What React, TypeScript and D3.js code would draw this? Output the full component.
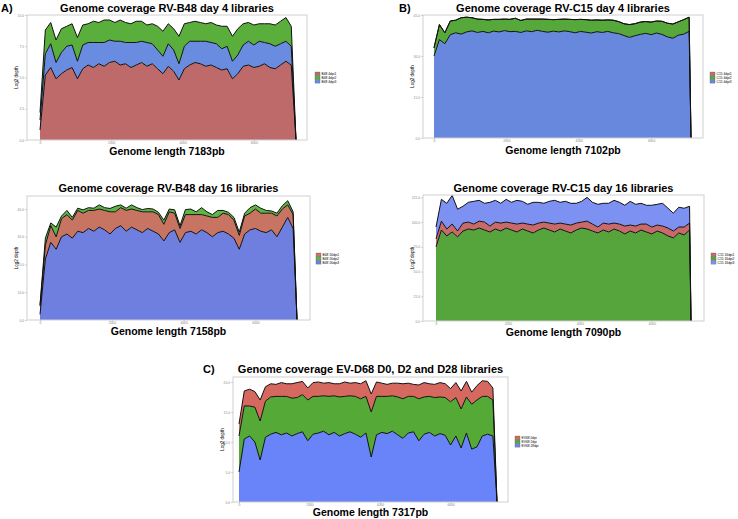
import React, { useEffect, useRef } from "react";
import * as d3 from "d3";

// RV-B48 day 4 (panel A, left)
const b48d4Len = 7183;
const b48d4Lib1 = [0.8, 5.2, 5.8, 4.9, 5.3, 5.6, 5.8, 4.9, 5.7, 6.0, 5.8, 6.1, 5.9, 6.2, 6.3, 6.0, 6.1, 5.8, 6.0, 6.2, 5.9, 6.1, 5.7, 5.3, 5.9, 5.5, 4.8, 5.7, 6.0, 6.2, 6.1, 5.9, 6.0, 5.8, 5.6, 5.7, 4.9, 5.3, 5.9, 6.0, 5.8, 5.9, 6.1, 5.8, 5.7, 6.0, 6.3, 6.0, 0];
const b48d4Lib2 = [0.6, 1.9, 1.7, 1.8, 1.9, 1.6, 1.7, 1.9, 1.6, 1.5, 1.7, 1.6, 1.8, 1.6, 1.5, 1.7, 1.6, 1.5, 1.7, 1.6, 1.4, 1.6, 1.9, 2.0, 1.6, 1.7, 2.2, 1.8, 1.5, 1.6, 1.5, 1.4, 1.6, 1.5, 1.8, 1.6, 2.0, 2.1, 1.7, 1.5, 1.6, 1.4, 1.5, 1.6, 1.7, 1.8, 1.9, 1.6, 0];
const b48d4Lib3 = [0.8, 1.7, 1.9, 1.3, 1.7, 1.9, 1.8, 1.4, 1.9, 1.8, 2.0, 1.7, 1.9, 1.8, 1.6, 1.9, 1.7, 2.0, 1.8, 1.7, 1.9, 1.6, 1.5, 1.4, 1.8, 1.7, 1.3, 1.8, 1.9, 1.7, 1.8, 2.0, 1.8, 1.9, 1.7, 1.8, 1.4, 1.5, 1.7, 1.9, 1.8, 2.0, 1.7, 1.9, 1.8, 1.7, 1.6, 1.5, 0];

// RV-C15 day 4 (panel B, right)
const c15d4Len = 7102;
const c15d4Lib1 = [0, 0, 0, 0, 0, 0, 0, 0, 0, 0, 0, 0, 0, 0, 0, 0, 0, 0, 0, 0, 0, 0, 0, 0, 0, 0, 0, 0, 0, 0, 0, 0, 0, 0, 0, 0, 0, 0, 0, 0, 0, 0, 0, 0, 0, 0, 0, 0, 0];
const c15d4Lib2 = [3.0, 5.5, 4.0, 5.0, 4.6, 6.0, 5.4, 4.8, 4.9, 4.4, 4.7, 4.3, 4.6, 4.2, 4.5, 4.8, 4.4, 4.3, 4.6, 4.1, 4.5, 4.7, 4.2, 4.6, 4.3, 4.5, 4.8, 4.4, 4.6, 4.7, 4.3, 4.5, 4.2, 4.6, 4.4, 4.3, 4.7, 4.4, 4.5, 4.3, 4.6, 4.4, 4.8, 5.0, 5.2, 4.9, 5.3, 5.2, 0];
const c15d4Lib3 = [30.0, 36.0, 34.5, 37.8, 38.5, 38.0, 38.8, 39.2, 38.6, 39.0, 38.5, 39.1, 38.8, 39.3, 38.9, 39.0, 38.6, 39.2, 38.9, 39.4, 39.0, 38.7, 39.1, 38.8, 39.2, 38.9, 38.5, 39.0, 38.7, 38.4, 38.9, 38.6, 39.0, 38.5, 38.2, 37.5, 36.8, 37.4, 37.9, 38.3, 37.8, 38.4, 37.9, 37.0, 36.5, 37.6, 38.0, 39.0, 0];

// RV-B48 day 16
const b48d16Len = 7158;
const b48d16Lib1 = [3.0, 5.0, 6.0, 4.5, 6.5, 7.0, 6.5, 7.5, 7.0, 6.5, 7.5, 6.5, 7.0, 8.0, 6.0, 6.5, 7.5, 6.5, 7.0, 7.5, 6.0, 7.0, 7.0, 6.0, 7.5, 6.0, 5.0, 6.5, 6.0, 7.0, 5.5, 6.0, 7.0, 5.5, 6.5, 7.0, 6.5, 5.0, 6.5, 6.0, 7.0, 6.5, 7.0, 6.0, 7.5, 6.5, 4.5, 5.0, 0];
const b48d16Lib2 = [0.5, 2.5, 1.0, 3.5, 1.0, 1.5, 1.0, 0.8, 1.2, 1.0, 0.8, 1.5, 1.0, 1.2, 2.0, 1.0, 0.8, 1.5, 1.0, 0.8, 1.2, 1.0, 0.8, 1.5, 1.0, 1.2, 1.0, 1.8, 2.0, 1.0, 2.5, 1.5, 1.0, 2.5, 1.0, 0.8, 1.0, 1.2, 1.0, 2.0, 1.5, 1.8, 1.0, 0.8, 1.0, 1.2, 1.5, 1.0, 0];
const b48d16Lib3 = [2.0, 22.0, 28.0, 25.5, 30.0, 31.0, 29.5, 32.0, 31.5, 33.0, 32.0, 33.5, 32.5, 31.0, 33.0, 34.0, 32.0, 33.5, 32.5, 31.5, 33.0, 32.0, 31.0, 28.5, 31.5, 32.5, 28.0, 31.5, 32.0, 31.0, 32.5, 31.5, 30.0, 31.5, 32.0, 31.0, 29.5, 25.5, 31.0, 32.5, 33.0, 32.0, 31.5, 32.5, 30.0, 33.5, 37.0, 33.0, 0];

// RV-C15 day 16
const c15d16Len = 7090;
const c15d16Lib1 = [8, 9, 7, 8, 6, 8, 7, 6, 7, 8, 6, 7, 8, 6, 7, 8, 6, 7, 8, 7, 6, 7, 8, 6, 7, 8, 7, 6, 8, 7, 6, 7, 8, 6, 7, 8, 6, 7, 6, 8, 7, 6, 7, 8, 7, 6, 8, 7, 0];
const c15d16Lib2 = [75, 92, 86, 90, 85, 91, 93, 92, 94, 92, 90, 93, 91, 94, 92, 90, 93, 91, 89, 92, 94, 92, 90, 93, 91, 89, 92, 94, 93, 91, 89, 92, 90, 93, 91, 88, 91, 89, 92, 90, 88, 91, 89, 86, 84, 89, 87, 92, 0];
const c15d16Lib3 = [12, 22, 26, 29, 22, 17, 20, 23, 21, 19, 24, 22, 20, 23, 21, 24, 22, 20, 23, 21, 19, 22, 24, 21, 23, 22, 20, 21, 24, 22, 23, 20, 21, 23, 22, 21, 24, 22, 21, 19, 22, 21, 23, 20, 18, 20, 19, 17, 0];

// EV-D68 D0, D2, D28
const ev68Len = 7317;
const ev68D0 = [2.0, 2.5, 2.8, 2.6, 3.5, 2.4, 2.2, 2.0, 2.3, 2.1, 2.4, 2.5, 2.2, 2.0, 2.3, 2.4, 2.1, 2.3, 2.0, 2.2, 2.4, 2.1, 2.3, 2.5, 2.6, 3.0, 2.4, 2.2, 2.0, 2.1, 2.3, 2.5, 2.2, 2.0, 2.3, 2.4, 2.1, 2.2, 2.4, 2.3, 2.2, 2.5, 3.0, 2.6, 2.0, 2.4, 2.6, 2.5, 2.0, 0];
const ev68D2 = [6.0, 5.5, 5.0, 5.8, 6.5, 6.0, 6.2, 6.0, 6.4, 6.1, 6.3, 6.0, 6.2, 6.8, 6.3, 6.1, 5.9, 6.4, 6.1, 6.5, 6.2, 6.0, 6.3, 6.4, 6.1, 7.5, 6.4, 6.0, 6.2, 5.9, 6.3, 6.6, 6.1, 5.9, 7.0, 6.2, 6.0, 6.4, 6.1, 6.3, 7.2, 6.4, 6.5, 6.0, 7.5, 7.8, 6.6, 6.3, 6.0, 0];
const ev68D28 = [5.0, 10.5, 11.0, 10.0, 7.0, 10.8, 11.3, 11.6, 11.2, 11.5, 11.0, 11.4, 11.7, 10.2, 11.3, 11.5, 11.8, 11.2, 11.6, 11.0, 11.4, 11.7, 11.3, 10.8, 11.5, 7.5, 11.2, 11.6, 11.4, 11.8, 11.2, 10.6, 11.5, 11.7, 10.2, 11.3, 11.6, 11.0, 11.4, 11.1, 9.5, 11.0, 9.0, 11.5, 8.8, 9.2, 11.0, 11.3, 11.0, 0];

const xTicks = [0, 2000, 4000, 6000];

const positions = (len: number) => [...d3.range(0, len, 150), len];

const FONT = "Liberation Sans, Arial, sans-serif";

interface Layer { name: string; values: number[]; color: string; }
interface Panel {
    letter?: string; letterX?: number;
    title: string; len: number;
    box: { x: number; y: number; w: number; h: number };
    xr: [number, number];
    ymax: number; yTicks: number[]; yFmt: string;
    stack: Layer[];      // bottom to top
    legend: Layer[];     // legend order
    legX: number; legY: number;
    titleY: number; xlabY: number;
}

const mk = (name: string, values: number[], color: string): Layer => ({ name, values, color });

const panels: Panel[] = (() => {
    const a1 = mk("B48 4dpi1", b48d4Lib1, "#be6a6a"), a2 = mk("B48 4dpi2", b48d4Lib2, "#5aae3c"), a3 = mk("B48 4dpi3", b48d4Lib3, "#6a8ce0");
    const b1 = mk("C15 4dpi1", c15d4Lib1, "#c86a6a"), b2 = mk("C15 4dpi2", c15d4Lib2, "#56a83a"), b3 = mk("C15 4dpi3", c15d4Lib3, "#6888de");
    const c1 = mk("B48 16dpi1", b48d16Lib1, "#c77462"), c2 = mk("B48 16dpi2", b48d16Lib2, "#5db544"), c3 = mk("B48 16dpi3", b48d16Lib3, "#6e7fe0");
    const d1 = mk("C15 16dpi1", c15d16Lib1, "#c86a6a"), d2 = mk("C15 16dpi2", c15d16Lib2, "#55a53c"), d3_ = mk("C15 16dpi3", c15d16Lib3, "#7d91f3");
    const e1 = mk("EV68 0dpi", ev68D0, "#d6695f"), e2 = mk("EV68 2dpi", ev68D2, "#55aa37"), e3 = mk("EV68 28dpi", ev68D28, "#6983f8");
    return [
        { letter: "A)", letterX: 1, title: "Genome coverage RV-B48 day 4 libraries", len: b48d4Len,
          box: { x: 27, y: 15, w: 280, h: 125 }, xr: [40, 296], ymax: 10, yTicks: [0, 2.5, 5, 7.5, 10], yFmt: ".1f",
          stack: [a1, a3, a2], legend: [a1, a2, a3], legX: 315, legY: 72, titleY: 12, xlabY: 155 },
        { letter: "B)", letterX: 399, title: "Genome coverage RV-C15 day 4 libraries", len: c15d4Len,
          box: { x: 423, y: 15, w: 280, h: 123 }, xr: [434, 691], ymax: 45, yTicks: [0, 15, 30, 45], yFmt: ".1f",
          stack: [b3, b2, b1], legend: [b1, b2, b3], legX: 710, legY: 72, titleY: 12, xlabY: 154 },
        { title: "Genome coverage RV-B48 day 16 libraries", len: b48d16Len,
          box: { x: 27, y: 196, w: 283, h: 124 }, xr: [40, 297], ymax: 44.7, yTicks: [0, 10, 20, 30, 40], yFmt: ".1f",
          stack: [c3, c1, c2], legend: [c1, c2, c3], legX: 316, legY: 253, titleY: 192, xlabY: 335 },
        { title: "Genome coverage RV-C15 day 16 libraries", len: c15d16Len,
          box: { x: 423, y: 195, w: 281, h: 126 }, xr: [436, 691], ymax: 127.4, yTicks: [0, 25, 50, 75, 100, 125], yFmt: ".1f",
          stack: [d2, d1, d3_], legend: [d1, d2, d3_], legX: 711, legY: 253, titleY: 192, xlabY: 336 },
        { letter: "C)", letterX: 203, title: "Genome coverage EV-D68 D0, D2 and D28 libraries", len: ev68Len,
          box: { x: 233, y: 377, w: 275, h: 125 }, xr: [239, 497], ymax: 20.83, yTicks: [0, 5, 10, 15, 20], yFmt: ".1f",
          stack: [e3, e2, e1], legend: [e1, e2, e3], legX: 515, legY: 436, titleY: 373, xlabY: 516 },
    ];
})();

function drawPanel(svg: any, p: Panel) {
    const { box } = p;
    const pos = positions(p.len);
    const x = d3.scaleLinear().domain([0, p.len]).range(p.xr);
    const y = d3.scaleLinear().domain([0, p.ymax]).range([box.y + box.h, box.y]);

    const rows = pos.map((bp, i) => {
        const r: any = { bp };
        p.stack.forEach(l => { r[l.name] = l.values[i]; });
        return r;
    });
    const series = d3.stack().keys(p.stack.map(l => l.name))(rows);

    const area = d3.area<any>()
        .x((d: any) => x(d.data.bp))
        .y0((d: any) => y(d[0]))
        .y1((d: any) => y(d[1]));
    const topLine = d3.line<any>()
        .x((d: any) => x(d.data.bp))
        .y((d: any) => y(d[1]));

    const g = svg.append("g");

    series.forEach((s: any, i: number) => {
        g.append("path")
            .attr("d", area(s))
            .attr("fill", p.stack[i].color);
    });
    series.forEach((s: any) => {
        g.append("path")
            .attr("d", topLine(s))
            .attr("fill", "none")
            .attr("stroke", "#111")
            .attr("stroke-width", 1)
            .attr("stroke-linejoin", "round");
    });

    // panel border
    g.append("rect")
        .attr("x", box.x).attr("y", box.y)
        .attr("width", box.w).attr("height", box.h)
        .attr("fill", "none")
        .attr("stroke", "#cfcfcf")
        .attr("stroke-width", 1);

    // axes
    const yAxis = g.append("g")
        .attr("transform", `translate(${box.x},0)`)
        .call(d3.axisLeft(y).tickValues(p.yTicks).tickSize(2).tickPadding(1).tickFormat(d3.format(p.yFmt)));
    const xAxis = g.append("g")
        .attr("transform", `translate(0,${box.y + box.h})`)
        .call(d3.axisBottom(x).tickValues(xTicks).tickSize(1.5).tickPadding(0.5).tickFormat(d3.format("d")));
    [yAxis, xAxis].forEach(ax => {
        ax.select(".domain").remove();
        ax.selectAll("line").attr("stroke", "#aaa").attr("stroke-width", 0.5);
        ax.selectAll("text").attr("fill", "#888").style("font-size", "3.3px").style("font-family", FONT);
    });

    // axis titles
    g.append("text")
        .attr("transform", `translate(${box.x - 9},${box.y + box.h / 2}) rotate(-90)`)
        .attr("text-anchor", "middle")
        .style("font-size", "4.5px")
        .style("font-family", FONT)
        .text("Log2 depth");

    const cx = box.x + box.w / 2;
    g.append("text")
        .attr("x", cx).attr("y", p.titleY)
        .attr("text-anchor", "middle")
        .style("font-size", "11px").style("font-weight", "bold")
        .style("font-family", FONT)
        .text(p.title);
    g.append("text")
        .attr("x", cx).attr("y", p.xlabY)
        .attr("text-anchor", "middle")
        .style("font-size", "10.5px").style("font-weight", "bold")
        .style("font-family", FONT)
        .text("Genome length " + p.len + "pb");

    if (p.letter) {
        g.append("text")
            .attr("x", p.letterX).attr("y", p.titleY)
            .style("font-size", "11px").style("font-weight", "bold")
            .style("font-family", FONT)
            .text(p.letter);
    }

    // legend
    const leg = g.append("g").attr("transform", `translate(${p.legX},${p.legY})`);
    p.legend.forEach((l, i) => {
        leg.append("rect")
            .attr("x", 0).attr("y", i * 3.8)
            .attr("width", 5).attr("height", 3.5)
            .attr("fill", l.color)
            .attr("stroke", "#555").attr("stroke-width", 0.3);
        leg.append("text")
            .attr("x", 6.5).attr("y", i * 3.8 + 2.9)
            .style("font-size", "3.3px")
            .style("font-family", FONT)
            .text(l.name);
    });
}

export default function App() {
    const ref = useRef<SVGSVGElement>(null);

    useEffect(() => {
        const svg = d3.select(ref.current);
        svg.selectAll("*").remove();
        svg.append("rect").attr("width", 738).attr("height", 519).attr("fill", "#fff");
        panels.forEach(p => drawPanel(svg, p));
    }, []);

    return (
        <svg ref={ref} width={738} height={519}
             style={{ position: "absolute", left: 0, top: 0, display: "block" }} />
    );
}
